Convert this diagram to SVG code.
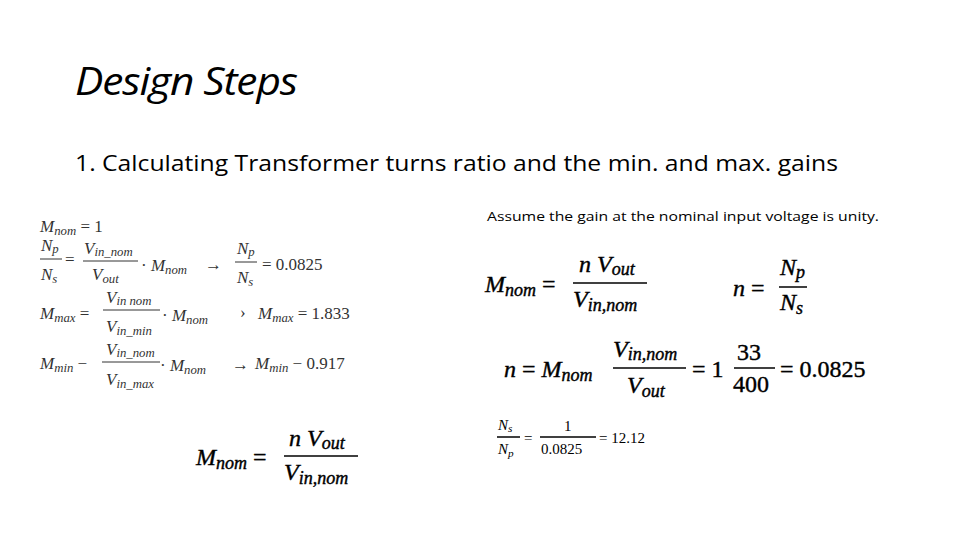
<svg xmlns="http://www.w3.org/2000/svg" width="960" height="540" viewBox="0 0 960 540">
<style>
text{font-family:"Liberation Serif",serif;fill:#000}
.i{font-style:italic}
.s{font-size:75%}
.L{fill:#333}
.bar{stroke:#000;stroke-width:1.5}
.lb{stroke:#333;stroke-width:1}
.sans{font-family:"Open Sans","Liberation Sans",sans-serif}
.B text{stroke:#000;stroke-width:0.4}
</style>
<rect width="960" height="540" fill="#fff"/>
<g id="title"><text class="sans" x="75" y="95" font-size="38" font-style="italic" textLength="222" lengthAdjust="spacingAndGlyphs" letter-spacing="-1">Design Steps</text></g>
<g id="heading"><text class="sans" x="75" y="171" font-size="21" textLength="763" lengthAdjust="spacingAndGlyphs">1.  Calculating Transformer turns ratio and the min. and max. gains</text></g>
<g id="note"><text class="sans" x="487" y="221" font-size="13" textLength="392" lengthAdjust="spacingAndGlyphs">Assume the gain at the nominal input voltage is unity.</text></g>

<g id="left-eqs" font-size="17">
<text class="L" x="40" y="232"><tspan class="i">M</tspan><tspan class="i s" dy="3">nom</tspan><tspan dy="-3"> = 1</tspan></text>
<text class="L i" x="41" y="251">N<tspan class="s" dy="2">p</tspan></text>
<line class="lb" x1="40" y1="259" x2="62" y2="259"/>
<text class="L i" x="41" y="280">N<tspan class="s" dy="3">s</tspan></text>
<text class="L" x="65" y="265">=</text>
<text class="L i" x="84" y="254">V<tspan class="s" dy="2">in_nom</tspan></text>
<line class="lb" x1="83" y1="261" x2="138" y2="261"/>
<text class="L i" x="92" y="280">V<tspan class="s" dy="3">out</tspan></text>
<text class="L" x="141" y="271">· <tspan class="i">M</tspan><tspan class="i s" dy="3">nom</tspan></text>
<text class="L" x="205" y="270">→</text>
<text class="L i" x="237" y="254">N<tspan class="s" dy="2">p</tspan></text>
<line class="lb" x1="235" y1="262" x2="257" y2="262"/>
<text class="L i" x="237" y="283">N<tspan class="s" dy="3">s</tspan></text>
<text class="L" x="262" y="270">= 0.0825</text>

<text class="L" x="40" y="319"><tspan class="i">M</tspan><tspan class="i s" dy="3">max</tspan><tspan dy="-3"> =</tspan></text>
<text class="L i" x="106" y="303">V<tspan class="s" dy="2">in nom</tspan></text>
<line class="lb" x1="103" y1="310" x2="160" y2="310"/>
<text class="L i" x="106" y="332">V<tspan class="s" dy="3">in_min</tspan></text>
<text class="L" x="162" y="321">· <tspan class="i">M</tspan><tspan class="i s" dy="3">nom</tspan></text>
<text class="L" x="240" y="318">›</text>
<text class="L" x="258" y="319"><tspan class="i">M</tspan><tspan class="i s" dy="3">max</tspan><tspan dy="-3"> = 1.833</tspan></text>

<text class="L" x="40" y="369"><tspan class="i">M</tspan><tspan class="i s" dy="3">min</tspan><tspan dy="-3"> −</tspan></text>
<text class="L i" x="106" y="355">V<tspan class="s" dy="2">in_nom</tspan></text>
<line class="lb" x1="102" y1="362" x2="160" y2="362"/>
<text class="L i" x="106" y="385">V<tspan class="s" dy="3">in_max</tspan></text>
<text class="L" x="160" y="371">· <tspan class="i">M</tspan><tspan class="i s" dy="3">nom</tspan></text>
<text class="L" x="232" y="370">→</text>
<text class="L" x="255" y="369"><tspan class="i">M</tspan><tspan class="i s" dy="3">min</tspan><tspan dy="-3"> − 0.917</tspan></text>
</g>

<g id="bottom-left-eq" class="B" font-size="24">
<text x="196" y="465"><tspan class="i">M</tspan><tspan class="i s" dy="4">nom</tspan><tspan dy="-4"> =</tspan></text>
<text class="i" x="289" y="446">n V<tspan class="s" dy="3">out</tspan></text>
<line class="bar" x1="284" y1="456" x2="358" y2="456"/>
<text class="i" x="284" y="480">V<tspan class="s" dy="4">in,nom</tspan></text>
</g>

<g id="right-eq1" class="B" font-size="24">
<text x="485" y="292"><tspan class="i">M</tspan><tspan class="i s" dy="4">nom</tspan><tspan dy="-4"> =</tspan></text>
<text class="i" x="579" y="272">n V<tspan class="s" dy="3">out</tspan></text>
<line class="bar" x1="573" y1="283" x2="647" y2="283"/>
<text class="i" x="573" y="307">V<tspan class="s" dy="4">in,nom</tspan></text>
</g>
<g id="right-eq2" class="B" font-size="24">
<text x="733" y="296"><tspan class="i">n</tspan> =</text>
<text class="i" x="780" y="275">N<tspan class="s" dy="3">p</tspan></text>
<line class="bar" x1="779" y1="287" x2="807" y2="287"/>
<text class="i" x="780" y="310">N<tspan class="s" dy="4">s</tspan></text>
</g>
<g id="right-eq3" class="B" font-size="24">
<text x="504" y="377"><tspan class="i">n</tspan> = <tspan class="i">M</tspan><tspan class="i s" dy="4">nom</tspan></text>
<text class="i" x="613" y="357">V<tspan class="s" dy="3">in,nom</tspan></text>
<line class="bar" x1="613" y1="368" x2="686" y2="368"/>
<text class="i" x="627" y="393">V<tspan class="s" dy="4">out</tspan></text>
<text x="692" y="377">= 1</text>
<text x="737" y="360">33</text>
<line class="bar" x1="734" y1="368" x2="775" y2="368"/>
<text x="733" y="392">400</text>
<text x="780" y="377">= 0.0825</text>
</g>
<g id="right-eq4" font-size="15">
<text class="i" x="498" y="430">N<tspan class="s" dy="2">s</tspan></text>
<line class="bar" x1="497" y1="437" x2="520" y2="437" stroke-width="1"/>
<text class="i" x="498" y="454">N<tspan class="s" dy="3">p</tspan></text>
<text x="524" y="443">=</text>
<text x="564" y="431">1</text>
<line class="bar" x1="540" y1="437" x2="596" y2="437" stroke-width="1"/>
<text x="541" y="454">0.0825</text>
<text x="599" y="443">= 12.12</text>
</g>
</svg>
